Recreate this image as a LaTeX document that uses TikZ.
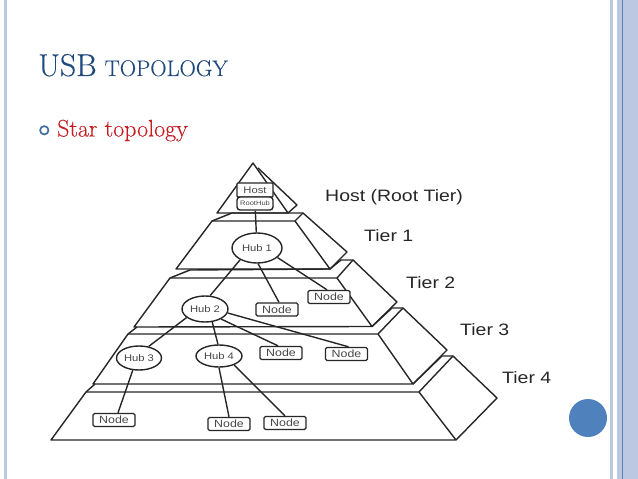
\documentclass[tikz,border=0pt]{standalone}
\usepackage{fontspec}
\usetikzlibrary{shapes.geometric}
\newfontfamily\diagfont{Liberation Sans}[FakeStretch=1.18]
\newfontfamily\slidefont{Latin Modern Roman}[FakeBold=0.2]
\definecolor{barblue}{HTML}{BCC8E2}
\definecolor{barline}{HTML}{5C7FB8}
\definecolor{titleblue}{HTML}{1F497D}
\definecolor{accentblue}{HTML}{4F81BD}
\definecolor{starred}{HTML}{C41E23}
\definecolor{ink}{HTML}{262626}
\tikzset{
  edge/.style={draw=ink,line width=1.4bp,line join=round},
  link/.style={draw=ink,line width=1.4bp},
  hubnode/.style={ellipse,draw=ink,line width=1.4bp,fill=white,inner sep=0pt,font=\diagfont\fontsize{9.5bp}{10bp}\selectfont,text=ink!85},
  boxnode/.style={rectangle,rounded corners=1.5bp,draw=ink,line width=1.4bp,fill=white,inner sep=0pt,minimum width=42bp,minimum height=13bp,font=\diagfont\fontsize{10.5bp}{11bp}\selectfont,text=ink!85},
  tierlabel/.style={anchor=base west,inner sep=0pt,font=\diagfont\fontsize{16.5bp}{17bp}\selectfont,text=ink},
}
\begin{document}
\begin{tikzpicture}[x=1bp,y=-1bp]
\useasboundingbox (0,0) rectangle (638,479);
% slide frame
\fill[barblue] (3.5,0) rectangle (7,479);
\fill[barblue] (610,0) rectangle (612.5,479);
\fill[barblue] (617,0) rectangle (638,479);
\draw[barline,line width=1bp] (622,0) -- (622,479);
% title and bullet
\node[anchor=base west,inner sep=0pt,text=titleblue,font=\slidefont\fontsize{31.5bp}{32bp}\selectfont] (title) at (38,76) {USB\hspace*{8bp}{\fontsize{22.6bp}{23bp}\selectfont TOPOLOGY}};
\draw[accentblue!85!black,line width=1.7bp] (44.3,130.3) circle (4.2);
\node[anchor=base west,inner sep=0pt,text=starred,font=\slidefont\fontsize{24bp}{25bp}\selectfont] (star) at (57,136.5) {Star topology};
% pyramid: root tier
\draw[edge] (217,213) -- (253,163) -- (288,213) -- cycle;
\draw[edge] (258,168) -- (297,205) -- (288,213);
% tier 1
\draw[edge] (176,269) -- (212,221) -- (295,221) -- (330,269) -- cycle;
\draw[edge] (212,221) -- (232,213) -- (303,213) -- (347,252) -- (330,269);
\draw[edge] (295,221) -- (303,213);
% tier 2
\draw[edge] (134,327) -- (170,278) -- (337,278) -- (372,326.5) -- cycle;
\draw[edge] (170,278) -- (190,270) -- (330,269);
\draw[edge] (330,269) -- (341,260) -- (353,260) -- (397,302) -- (372,326.5);
\draw[edge] (337,278) -- (353,260);
% tier 3
\draw[edge] (93,384) -- (128,334) -- (378,334) -- (413,384) -- cycle;
\draw[edge] (128,334) -- (137,327);
\draw[edge] (372,326.5) -- (392,308) -- (403,308) -- (447,350) -- (413,384);
\draw[edge] (378,334) -- (403,308);
% tier 4
\draw[edge] (51,440) -- (86,392) -- (419,392) -- (456,440) -- cycle;
\draw[edge] (86,392) -- (95,384);
\draw[edge] (413,384) -- (442,356) -- (453,356) -- (497,398) -- (456,440);
\draw[edge] (419,392) -- (453,356);
% nodes
\node[rectangle,rounded corners=1bp,draw=ink,line width=1.4bp,fill=white,inner sep=0pt,minimum width=36bp,minimum height=14bp,font=\diagfont\fontsize{9.5bp}{10bp}\selectfont,text=ink!85] (host) at (255,190) {Host};
\node[rectangle,rounded corners=3bp,draw=ink,line width=1.4bp,fill=white,inner sep=0pt,minimum width=36bp,minimum height=13bp,font=\diagfont\fontsize{6.4bp}{7bp}\selectfont,text=ink!85] (root) at (255,203.5) {RootHub};
\node[hubnode,minimum width=50bp,minimum height=30bp] (hub1) at (257,248) {Hub 1};
\node[hubnode,minimum width=46bp,minimum height=26bp] (hub2) at (205,309) {Hub 2};
\node[hubnode,minimum width=45bp,minimum height=24bp] (hub3) at (139,358) {Hub 3};
\node[hubnode,minimum width=46bp,minimum height=22bp] (hub4) at (219,356) {Hub 4};
\node[boxnode] (n1) at (277,309.5) {Node};
\node[boxnode] (n2) at (329,297) {Node};
\node[boxnode] (n3) at (281,353) {Node};
\node[boxnode] (n4) at (346.5,354) {Node};
\node[boxnode] (n5) at (114,420) {Node};
\node[boxnode] (n6) at (229,424) {Node};
\node[boxnode] (n7) at (285,423) {Node};
% connectors
\draw[link] (root) -- (hub1);
\draw[link] (hub1.215) -- (hub2.69);
\draw[link] (hub1.274) -- ([xshift=2bp]n1.north);
\draw[link] (hub1.335) -- ([xshift=-2bp]n2.north);
\draw[link] (hub2.205) -- (hub3.50);
\draw[link] (hub2.299) -- (hub4.95);
\draw[link] (hub2.328) -- ([xshift=-3bp]n3.north);
\draw[link] (hub2.350) -- ([xshift=2bp]n4.north);
\draw[link] (hub3.243) -- ([xshift=4bp]n5.north);
\draw[link] (hub4.south) -- (n6.north);
\draw[link] (hub4.329) -- (n7.north);
% tier labels
\node[tierlabel] (t0) at (325,201.5) {Host (Root Tier)};
\node[tierlabel] (t1) at (364,241.5) {Tier 1};
\node[tierlabel] (t2) at (406,288.5) {Tier 2};
\node[tierlabel] (t3) at (460,335.5) {Tier 3};
\node[tierlabel] (t4) at (502,383.5) {Tier 4};
% corner dot
\fill[accentblue] (588,418) circle (19);
\end{tikzpicture}
\end{document}
